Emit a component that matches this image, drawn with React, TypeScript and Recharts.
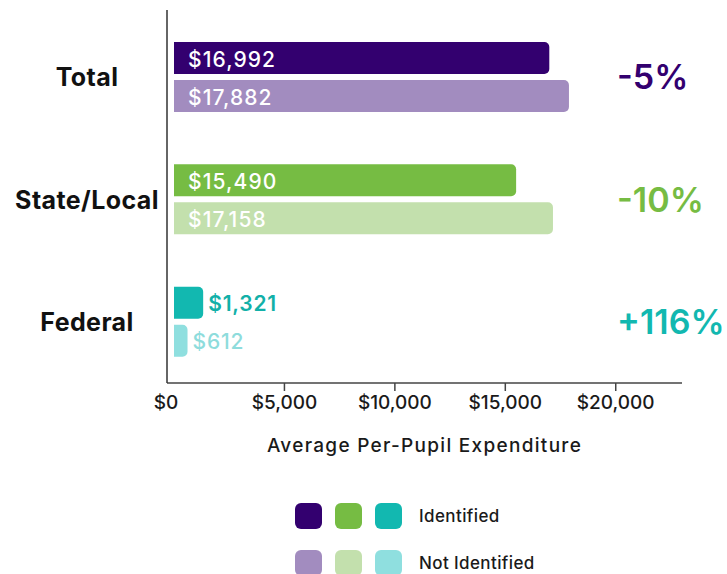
import React from 'react';
import { BarChart, Bar, XAxis, YAxis, Cell, LabelList, Legend } from 'recharts';

const categories = ['Total', 'State/Local', 'Federal'];
const identified = [16992, 15490, 1321];
const notIdentified = [17882, 17158, 612];
const changes = ['-5%', '-10%', '+116%'];
const xTicks = [0, 5000, 10000, 15000, 20000];

const identifiedColors = ['#33006f', '#76bc43', '#12b8b0'];
const notIdentifiedColors = ['#a28cbf', '#c3e0ad', '#8fdfdf'];
const outsideLabelColors = ['#12b0a8', '#8edcdc'];

const FONT = 'Inter, "Open Sans", sans-serif';

const data = categories.map((name, i) => ({
  name,
  identified: identified[i],
  notIdentified: notIdentified[i],
}));

const money = (v: number) => '$' + v.toLocaleString('en-US');

const CategoryTick = ({ x, y, payload }: any) => (
  <text
    x={x - 80}
    y={y}
    dy="0.36em"
    textAnchor="middle"
    fontFamily={FONT}
    fontSize={25}
    fontWeight={700}
    letterSpacing={0.4}
    fill="#111"
  >
    {payload.value}
  </text>
);

const ChangeTick = ({ x, y, index }: any) => (
  <text
    x={x - 65}
    y={y}
    dy="0.36em"
    textAnchor="start"
    fontFamily={FONT}
    fontSize={34}
    fontWeight={600}
    fill={identifiedColors[index]}
  >
    {changes[index]}
  </text>
);

const MoneyTick = ({ x, y, payload }: any) => {
  const isZero = payload.value === 0;
  return (
    <g>
      {!isZero && <line x1={x} x2={x} y1={y - 13} y2={y - 5} stroke="#444" strokeWidth={1.5} />}
      <text
        x={isZero ? x - 8 : x}
        y={y}
        dy="0.71em"
        textAnchor="middle"
        fontFamily={FONT}
        fontSize={19}
        fontWeight={500}
        fill="#1a1a1a"
      >
        {money(payload.value)}
      </text>
    </g>
  );
};

const valueLabel = (series: number) => (props: any) => {
  const { x, y, width, height, value, index } = props;
  const inside = index !== undefined ? index < 2 : value > 3000;
  const cy = y + height / 2 + 1;
  if (inside) {
    return (
      <text
        x={x + 14}
        y={cy}
        dominantBaseline="central"
        fontFamily={FONT}
        fontSize={21}
        fontWeight={500}
        letterSpacing={1.1}
        fill="#fff"
      >
        {money(value)}
      </text>
    );
  }
  return (
    <text
      x={x + width + 5}
      y={cy}
      dominantBaseline="central"
      fontFamily={FONT}
      fontSize={21}
      fontWeight={series === 0 ? 600 : 500}
      letterSpacing={0.8}
      fill={outsideLabelColors[series]}
    >
      {money(value)}
    </text>
  );
};

const legendRows = [
  { label: 'Identified', colors: identifiedColors },
  { label: 'Not Identified', colors: notIdentifiedColors },
];

const LegendContent = () => (
  <div style={{ position: 'relative', width: 727, height: 116, fontFamily: FONT }}>
    {legendRows.map((row, r) => (
      <div
        key={row.label}
        style={{ position: 'absolute', left: 295, top: 45 + r * 47, display: 'flex', alignItems: 'center' }}
      >
        {row.colors.map((c) => (
          <div key={c} style={{ width: 27, height: 26, borderRadius: 6, background: c, marginRight: 13 }} />
        ))}
        <span style={{ marginLeft: 4, fontSize: 17, fontWeight: 500, letterSpacing: 0.4, color: '#1a1a1a' }}>
          {row.label}
        </span>
      </div>
    ))}
  </div>
);

export default function App() {
  return (
    <div style={{ position: 'absolute', left: 0, top: 0, width: 727, height: 574, background: '#fff' }}>
      <BarChart
        width={727}
        height={574}
        data={data}
        layout="vertical"
        margin={{ top: 10, right: 0, bottom: 0, left: 0 }}
        barSize={32}
        barGap={6}
      >
        <XAxis
          type="number"
          domain={[0, 23000]}
          ticks={xTicks}
          allowDataOverflow
          height={75}
          padding={{ left: 7, right: 0 }}
          axisLine={{ stroke: '#444', strokeWidth: 1.5 }}
          tickLine={false}
          tickSize={8}
          tickMargin={5}
          tick={<MoneyTick />}
          label={{
            value: 'Average Per-Pupil Expenditure',
            position: 'insideBottom',
            offset: 6,
            fontFamily: FONT,
            fontSize: 19,
            fontWeight: 500,
            letterSpacing: 1.3,
            fill: '#1a1a1a',
          }}
        />
        <YAxis
          yAxisId="cat"
          type="category"
          dataKey="name"
          width={167}
          padding={{ top: 6, bottom: 0 }}
          axisLine={{ stroke: '#333', strokeWidth: 1.5 }}
          tickLine={false}
          tickSize={0}
          tickMargin={0}
          tick={<CategoryTick />}
        />
        <YAxis
          yAxisId="pct"
          orientation="right"
          type="category"
          dataKey="name"
          width={45}
          padding={{ top: 6, bottom: 0 }}
          axisLine={false}
          tickLine={false}
          tickSize={0}
          tickMargin={0}
          tick={<ChangeTick />}
        />
        <Bar yAxisId="cat" dataKey="identified" radius={[0, 5, 5, 0]} isAnimationActive={false}>
          {data.map((_, i) => (
            <Cell key={`id-${i}`} fill={identifiedColors[i]} />
          ))}
          <LabelList dataKey="identified" content={valueLabel(0)} />
        </Bar>
        <Bar yAxisId="cat" dataKey="notIdentified" radius={[0, 5, 5, 0]} isAnimationActive={false}>
          {data.map((_, i) => (
            <Cell key={`nid-${i}`} fill={notIdentifiedColors[i]} />
          ))}
          <LabelList dataKey="notIdentified" content={valueLabel(1)} />
        </Bar>
        <Legend
          verticalAlign="bottom"
          content={<LegendContent />}
          wrapperStyle={{ left: 0, width: 727, height: 116 }}
        />
      </BarChart>
    </div>
  );
}
